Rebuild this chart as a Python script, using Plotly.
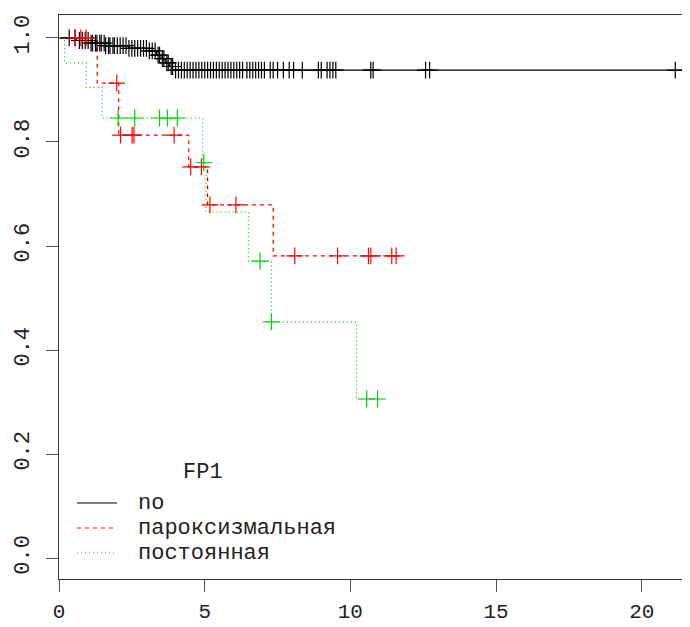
import numpy as np
import plotly.graph_objects as go

# ---- data (Kaplan-Meier curves, groups of FP1) ----
groups = ["no", "пароксизмальная", "постоянная"]
legend_title = "FP1"

no_times = [0.6, 1.1, 1.6, 2.4, 3.1, 3.35, 3.5, 3.65, 3.8, 4.0]
no_surv = [0.995, 0.99, 0.985, 0.98, 0.975, 0.967, 0.96, 0.952, 0.945, 0.938]
no_end = 21.4
no_cens = [0.35, 0.55, 0.7, 0.8, 0.9, 1.0, 1.1, 1.15, 1.25, 1.3, 1.4, 1.45, 1.55,
           1.6, 1.7, 1.75, 1.85, 1.9, 2.0, 2.1, 2.2, 2.3, 2.4, 2.5, 2.6, 2.7, 2.8,
           2.9, 3.0, 3.1, 3.2, 3.3, 3.4, 3.45, 3.55, 3.6, 3.7, 3.75, 3.85, 3.9,
           4.0, 4.1, 4.2, 4.3, 4.4, 4.5, 4.6, 4.7, 4.8, 4.9, 5.0, 5.1, 5.2, 5.3,
           5.4, 5.5, 5.6, 5.7, 5.8, 5.9, 6.0, 6.1, 6.2, 6.3, 6.45, 6.55, 6.65,
           6.75, 6.85, 6.95, 7.05, 7.25, 7.35, 7.5, 7.7, 7.9, 8.05, 8.35, 8.9,
           9.0, 9.2, 9.3, 9.4, 9.5, 10.7, 10.78, 12.58, 12.72, 21.15]

par_times = [1.31, 2.05, 4.45, 5.1, 7.35]
par_surv = [0.913, 0.813, 0.752, 0.679, 0.581]
par_end = 11.73
par_cens = [0.55, 0.75, 0.93, 1.98, 2.11, 2.51, 2.57, 3.95, 4.52, 4.89, 5.18,
            6.07, 8.09, 9.56, 10.62, 10.70, 11.42, 11.57]

pos_times = [0.19, 0.93, 1.48, 4.93, 5.05, 6.51, 7.29, 10.21]
pos_surv = [0.952, 0.905, 0.846, 0.76, 0.665, 0.571, 0.454, 0.306]
pos_end = 11.2
pos_cens = [2.03, 2.6, 3.45, 3.72, 4.06, 4.97, 6.9, 7.29, 10.56, 10.93]

x_ticks = [0, 5, 10, 15, 20]
y_ticks = [0.0, 0.2, 0.4, 0.6, 0.8, 1.0]

# ---- styles / layout ----
colors = ["#000000", "#FF0000", "#00CD00"]
dashes = ["solid", "4px,4px", "1px,3px"]
FONT = "Liberation Mono, monospace"
FSIZE = 22
TXT = "#222222"

OFF = 8  # page body margin offset of the figure in the window
W, H = 690, 627
ML, MR, MT, MB = 51, 0, 7, 56
PW = W - ML - MR
PH = H - MT - MB
X_MAX = 21.93


def px_to_paper_x(px):
    return (px - OFF - ML) / PW


def px_to_paper_y(py):
    return (H - MB - (py - OFF)) / PH


def step_xy(times, surv, end):
    xs = [0.0] + list(times) + [end]
    ys = [1.0] + list(surv) + [surv[-1]]
    return xs, ys


def surv_at(times, surv, t):
    allt = np.array(times)
    alls = np.array([1.0] + list(surv))
    idx = np.searchsorted(allt, np.array(t), side="right")
    return alls[idx]


fig = go.Figure()
series = [(no_times, no_surv, no_end, no_cens),
          (par_times, par_surv, par_end, par_cens),
          (pos_times, pos_surv, pos_end, pos_cens)]

for name, (t, s, e, c), col, dsh in zip(groups, series, colors, dashes):
    xs, ys = step_xy(t, s, e)
    fig.add_trace(go.Scatter(
        x=xs, y=ys, mode="lines", name=name, showlegend=False,
        line=dict(color=col, width=1.2, dash=dsh, shape="hv"),
        hoverinfo="skip"))

for name, (t, s, e, c), col in zip(groups, series, colors):
    fig.add_trace(go.Scatter(
        x=c, y=surv_at(t, s, c), mode="markers", showlegend=False,
        marker=dict(symbol="cross-thin", size=12, color=col,
                    line=dict(color=col, width=1.2)),
        hoverinfo="skip"))

# ---- legend (R-style, drawn in paper coordinates) ----
fig.add_annotation(text=legend_title, xref="paper", yref="paper",
                   x=px_to_paper_x(203), y=px_to_paper_y(472),
                   xanchor="center", yanchor="middle", showarrow=False,
                   font=dict(family=FONT, size=FSIZE, color=TXT))
row_y = [503, 528, 553]
for name, col, dsh, ry in zip(groups, colors, dashes, row_y):
    fig.add_shape(type="line", xref="paper", yref="paper",
                  x0=px_to_paper_x(77), x1=px_to_paper_x(117),
                  y0=px_to_paper_y(ry), y1=px_to_paper_y(ry),
                  line=dict(color=col, width=1.2, dash=dsh))
    fig.add_annotation(text=name, xref="paper", yref="paper",
                       x=px_to_paper_x(136), y=px_to_paper_y(ry),
                       xanchor="left", yanchor="middle", showarrow=False,
                       font=dict(family=FONT, size=FSIZE, color=TXT))

fig.update_layout(
    width=W, height=H,
    margin=dict(l=ML, r=MR, t=MT, b=MB),
    paper_bgcolor="white", plot_bgcolor="white",
    font=dict(family=FONT, size=FSIZE, color=TXT),
    showlegend=False,
    xaxis=dict(
        range=[0, X_MAX], tickvals=x_ticks, ticktext=[str(v) for v in x_ticks],
        showgrid=False, zeroline=False, automargin=False,
        showline=True, linecolor="#333333", linewidth=1, mirror=True,
        ticks="outside", ticklen=12, tickcolor="#555555", tickwidth=1,
        ticklabelstandoff=1,
        tickfont=dict(family=FONT, size=21, color=TXT),
    ),
    yaxis=dict(
        range=[-0.04, 1.044], tickvals=y_ticks,
        ticktext=[f"{v:.1f}" for v in y_ticks],
        tickangle=-90,
        showgrid=False, zeroline=False, automargin=False,
        showline=True, linecolor="#333333", linewidth=1,
        ticks="outside", ticklen=12, tickcolor="#555555", tickwidth=1,
        ticklabelstandoff=8,
    ),
)

fig.write_html("out.html", config={"displayModeBar": False})
